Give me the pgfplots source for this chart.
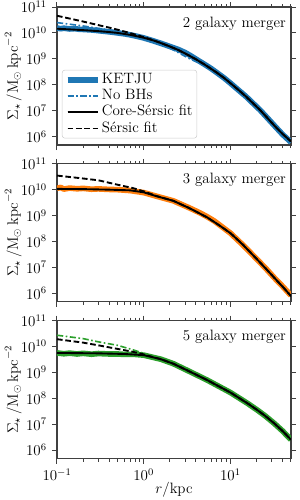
\documentclass[12pt,border=0pt]{standalone}
\usepackage{pgfplots}
\pgfplotsset{compat=1.18}
\definecolor{mblue}{HTML}{1F77B4}
\definecolor{morange}{HTML}{FF7F0E}
\definecolor{mgreen}{HTML}{2CA02C}
\tikzset{
  ketjuline/.style={line width=4.5pt, line join=round},
  nobhline/.style={line width=1.3pt, dash pattern=on 5pt off 2pt on 1.3pt off 2pt},
  csline/.style={black, line width=1.5pt},
  sersicline/.style={black, line width=1.5pt, dash pattern=on 4.5pt off 2.2pt},
}
\pgfplotsset{
  every axis/.append style={
    scale only axis, width=187.2pt, height=110.4pt,
    xmin=0.1, xmax=50, ymin=4.7e5, ymax=1e11,
    xtick={0.1,1,10},
    minor xtick={0.2,0.3,0.4,0.5,0.6,0.7,0.8,0.9,2,3,4,5,6,7,8,9,20,30,40,50},
    ytick={1e6,1e7,1e8,1e9,1e10,1e11}, yminorticks=false,
    tick align=outside, tick pos=both,
    major tick length=4pt, minor tick length=2.4pt,
    axis line style={black!75, line width=0.9pt},
    every tick/.append style={black!75, line width=0.8pt},
    ylabel={$\Sigma_\star\,/\mathrm{M}_\odot\,\mathrm{kpc}^{-2}$},
  },
  every axis y label/.style={at={(rel axis cs:0,0.5)}, xshift=-35pt, rotate=90, anchor=center},
  every axis x label/.style={at={(rel axis cs:0.5,0)}, yshift=-25pt, anchor=center},
}
\begin{document}
\begin{tikzpicture}
\path[use as bounding box] (0,0) rectangle (240pt,-400pt);
% ---------------- panel 1
\begin{loglogaxis}[at={(45.6pt,-5.6pt)}, anchor=north west, xticklabel=\empty,
  legend cell align=left,
  legend image code/.code={\path (0pt,0pt) -- (24pt,0pt); \draw[#1] (0pt,0pt) -- (20pt,0pt);},
  legend style={at={(0,0)}, anchor=south west, xshift=4pt, yshift=5.3pt, font=\normalsize,
    draw=black!20, rounded corners=2pt, fill=white, inner sep=1.2pt, inner xsep=2pt,
    row sep=0pt,
    nodes={inner sep=1.3pt, text height=8pt, text depth=2.4pt}}]
\addplot[ketjuline, mblue] coordinates {
(0.10,1.55e10)(0.11,1.45e10)(0.12,1.52e10)(0.14,1.42e10)(0.16,1.46e10)(0.18,1.38e10)
(0.20,1.36e10)(0.25,1.30e10)(0.30,1.22e10)(0.40,1.10e10)(0.50,1.00e10)(0.60,9.2e9)
(0.70,8.4e9)(0.85,7.3e9)(1.0,6.4e9)(1.3,4.9e9)(1.6,3.9e9)(2.0,3.0e9)(2.5,2.3e9)
(3.0,1.75e9)(3.5,1.3e9)(4.0,9.8e8)(5.0,6.2e8)(6.0,4.2e8)(7.0,2.9e8)(8.5,1.8e8)
(10,1.15e8)(12,6.8e7)(15,3.6e7)(18,2.0e7)(22,1.05e7)(27,5.0e6)(33,2.4e6)(40,1.2e6)(50,6.0e5)};
\addlegendentry{KETJU}
\addplot[nobhline, mblue] coordinates {
(0.1,2.5e10)(0.15,2.1e10)(0.2,1.85e10)(0.3,1.5e10)(0.4,1.3e10)(0.5,1.15e10)(0.7,9.0e9)
(1.0,6.6e9)(1.3,5.0e9)(1.6,3.8e9)(2.0,2.6e9)(2.5,1.75e9)(3.0,1.25e9)(3.5,9.5e8)(4.0,7.8e8)
(5.0,5.5e8)(7.0,2.8e8)(10,1.12e8)(15,3.6e7)(22,1.05e7)(33,2.4e6)(50,6.3e5)};
\addlegendentry{No BHs}
\addplot[csline] coordinates {
(0.1,1.45e10)(0.15,1.35e10)(0.2,1.28e10)(0.3,1.17e10)(0.4,1.08e10)(0.5,1.0e10)(0.7,8.4e9)
(1.0,6.5e9)(1.3,5.1e9)(1.6,4.0e9)(2.0,3.0e9)(2.5,2.2e9)(3.0,1.62e9)(4.0,9.6e8)(5.0,6.1e8)
(6.0,4.1e8)(7.0,2.9e8)(8.5,1.8e8)(10,1.15e8)(12,6.9e7)(15,3.6e7)(18,2.0e7)(22,1.05e7)
(27,5.0e6)(33,2.4e6)(40,1.25e6)(50,6.5e5)};
\addlegendentry{Core-S\'ersic fit\hspace{3pt}}
\addplot[sersicline] coordinates {
(0.1,4.6e10)(0.15,3.4e10)(0.2,2.75e10)(0.3,2.0e10)(0.4,1.6e10)(0.5,1.33e10)(0.7,9.8e9)
(1.0,6.9e9)(1.3,5.2e9)(1.6,4.0e9)(2.0,3.0e9)(2.5,2.2e9)(3.0,1.62e9)(4.0,9.6e8)(5.0,6.1e8)
(6.0,4.1e8)(7.0,2.9e8)(8.5,1.8e8)(10,1.15e8)(12,6.9e7)(15,3.6e7)(18,2.0e7)(22,1.05e7)
(27,5.0e6)(33,2.4e6)(40,1.25e6)(50,6.5e5)};
\addlegendentry{S\'ersic fit}
\node[anchor=north east, inner sep=0pt, xshift=-4pt, yshift=-7.5pt] at (rel axis cs:1,1) {2 galaxy merger};
\end{loglogaxis}
% ---------------- panel 2
\begin{loglogaxis}[at={(45.6pt,-131.0pt)}, anchor=north west, xticklabel=\empty]
\addplot[ketjuline, morange] coordinates {
(0.10,1.12e10)(0.11,1.22e10)(0.12,1.05e10)(0.14,1.15e10)(0.17,1.08e10)(0.20,1.12e10)(0.25,1.04e10)
(0.30,1.07e10)(0.40,1.02e10)(0.50,1.0e10)(0.70,9.2e9)(1.0,7.7e9)(1.4,5.6e9)(2.2,3.7e9)
(3.4,1.95e9)(4.5,1.25e9)(5.4,9.0e8)(6.5,6.2e8)(7.6,4.2e8)(10,2.1e8)(14,7.2e7)(20.4,2.0e7)
(26,8.6e6)(32,4.0e6)(40,1.85e6)(50,8.2e5)};
\addplot[csline] coordinates {
(0.1,1.07e10)(0.2,1.05e10)(0.4,1.0e10)(0.7,9.4e9)(1.0,7.9e9)(1.4,5.6e9)(2.2,3.7e9)
(3.4,1.9e9)(5.4,8.5e8)(7.6,4.0e8)(10,2.1e8)(14,7.4e7)(20.4,2.0e7)(26,8.5e6)(32,4.0e6)
(40,1.8e6)(50,7.8e5)};
\addplot[sersicline] coordinates {
(0.1,3.5e10)(0.2,2.7e10)(0.3,2.3e10)(0.5,1.55e10)(0.75,1.15e10)(1.0,8.6e9)(1.4,5.7e9)
(2.2,3.7e9)(3.4,1.9e9)(5.4,8.5e8)(7.6,4.0e8)(10,2.1e8)(14,7.4e7)(20.4,2.0e7)(26,8.5e6)
(32,4.0e6)(40,1.8e6)(50,7.8e5)};
\node[anchor=north east, inner sep=0pt, xshift=-4pt, yshift=-7.5pt] at (rel axis cs:1,1) {3 galaxy merger};
\end{loglogaxis}
% ---------------- panel 3
\begin{loglogaxis}[at={(45.6pt,-256.4pt)}, anchor=north west, xlabel={$r/\mathrm{kpc}$}]
\addplot[ketjuline, mgreen] coordinates {
(0.10,5.6e9)(0.12,5.2e9)(0.14,5.5e9)(0.17,5.1e9)(0.20,5.4e9)(0.25,5.0e9)(0.30,5.3e9)
(0.40,5.1e9)(0.50,5.1e9)(0.60,4.9e9)(0.80,4.9e9)(1.0,4.6e9)(1.58,3.2e9)(2.2,2.15e9)
(3.16,1.2e9)(5.4,5.0e8)(10,1.66e8)(15.8,6.3e7)(20.4,3.5e7)(25.1,2.1e7)(32,1.07e7)
(39.8,5.5e6)(50,2.5e6)};
\addplot[nobhline, mgreen] coordinates {
(0.1,2.7e10)(0.2,2.0e10)(0.3,1.5e10)(0.5,1.1e10)(0.75,7.4e9)(1.0,5.4e9)(1.3,3.9e9)
(1.58,3.2e9)(2.2,2.14e9)(3.16,1.2e9)(5.4,5.0e8)(10,1.66e8)(15.8,6.3e7)(20.4,3.5e7)
(25.1,2.1e7)(32,1.07e7)(39.8,5.5e6)(50,2.5e6)};
\addplot[csline] coordinates {
(0.1,5.6e9)(0.3,5.4e9)(0.6,5.1e9)(1.0,4.6e9)(1.3,3.75e9)(1.58,3.2e9)(2.2,2.14e9)(3.16,1.2e9)
(5.4,5.0e8)(10,1.66e8)(15.8,6.3e7)(20.4,3.5e7)(25.1,2.1e7)(32,1.07e7)(39.8,5.5e6)(50,2.5e6)};
\addplot[sersicline] coordinates {
(0.1,1.9e10)(0.2,1.4e10)(0.3,1.1e10)(0.5,8.0e9)(0.75,6.2e9)(1.0,4.9e9)(1.3,3.8e9)
(1.58,3.2e9)(2.2,2.14e9)(3.16,1.2e9)(5.4,5.0e8)(10,1.66e8)(15.8,6.3e7)(20.4,3.5e7)
(25.1,2.1e7)(32,1.07e7)(39.8,5.5e6)(50,2.5e6)};
\node[anchor=north east, inner sep=0pt, xshift=-4pt, yshift=-7.5pt] at (rel axis cs:1,1) {5 galaxy merger};
\end{loglogaxis}
\end{tikzpicture}
\end{document}
